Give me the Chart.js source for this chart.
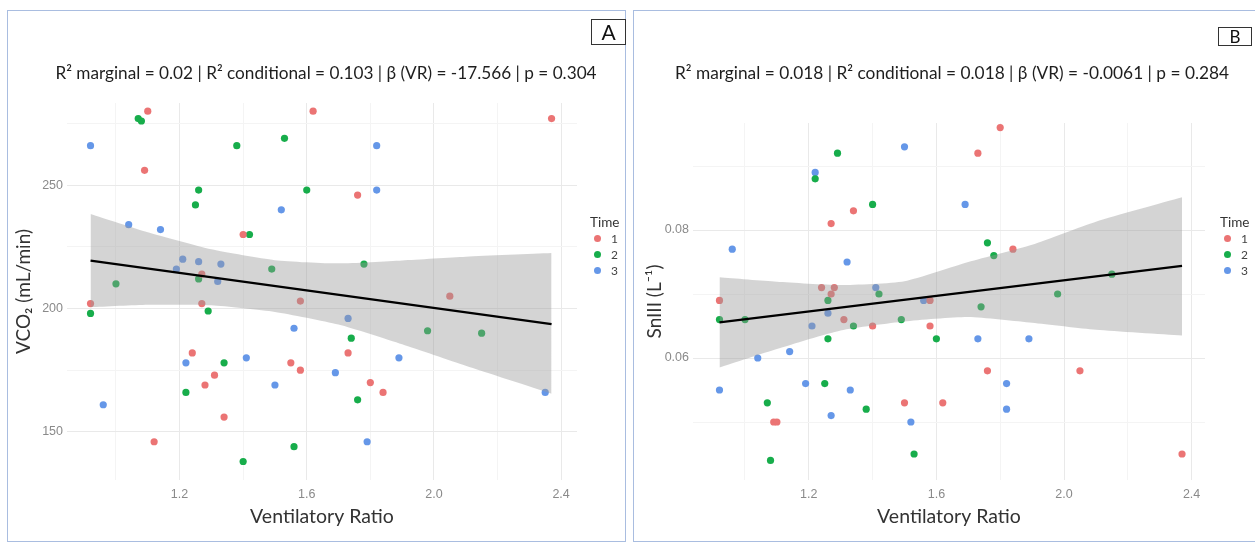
<!DOCTYPE html>
<html>
<head>
<meta charset="utf-8">
<title>VCO2 / SnIII vs Ventilatory Ratio</title>
<script src="https://cdn.jsdelivr.net/npm/chart.js"></script>
<style>
  body { margin: 0; width: 1255px; height: 542px; overflow: hidden; background: #fff; font-family: Lato, "Open Sans", sans-serif; }
  .panel { position: absolute; top: 10px; height: 530px; border: 1px solid #a9bde0; }
  #panelA { left: 7px; width: 617px; }
  #panelB { left: 633px; width: 621px; border-right: none; }
  .panel canvas { position: absolute; left: 0; top: 0; }
  .stats { position: absolute; top: 62px; width: 660px; line-height: 22px; text-align: center; color: #1e1e1e; white-space: nowrap; }
  .tag { position: absolute; box-sizing: border-box; border: 1px solid #333; text-align: center; color: #111; }
  .legTitle { position: absolute; font-size: 13.5px; line-height: 16px; color: #333; }
  .legItem { position: absolute; font-size: 12px; line-height: 14px; color: #444; }
  .legDot { position: absolute; width: 7px; height: 7px; border-radius: 50%; }
</style>
</head>
<body>
<div class="panel" id="panelA"><canvas id="chartA" width="617" height="530"></canvas></div>
<div class="panel" id="panelB"><canvas id="chartB" width="621" height="530"></canvas></div>

<div class="stats" style="left: -4px; font-size: 17.2px;">R² marginal = 0.02 | R² conditional = 0.103 | β (VR) = -17.566 | p = 0.304</div>
<div class="stats" style="left: 622px; font-size: 17.3px;">R² marginal = 0.018 | R² conditional = 0.018 | β (VR) = -0.0061 | p = 0.284</div>
<div class="tag" style="left: 591px; top: 19px; width: 35px; height: 26px; font-size: 21px; line-height: 24px;">A</div>
<div class="tag" style="left: 1218px; top: 27px; width: 34px; height: 19px; font-size: 17px; line-height: 17px;">B</div>

<script>
// categorias (Time) y colores
const timeLabels = ["1", "2", "3"];
const timeColors = ["#EB7474", "#17AD4B", "#6597E8"];

// ticks del eje x (Ventilatory Ratio)
const xTicks = [1.0, 1.2, 1.4, 1.6, 1.8, 2.0, 2.2, 2.4];
const xTickLabels = [1.2, 1.6, 2.0, 2.4];

// Panel A: VCO2 (mL/min)
const vco2Time1 = [[1.10, 280], [1.09, 256], [1.62, 280], [1.40, 230], [1.27, 214], [0.92, 202], [1.27, 202], [1.58, 203], [1.24, 182], [1.55, 178], [1.58, 175], [1.31, 173], [1.28, 169], [1.34, 156], [1.12, 146], [2.37, 277], [1.76, 246], [2.05, 205], [1.73, 182], [1.80, 170], [1.84, 166]];
const vco2Time2 = [[1.07, 277], [1.08, 276], [1.38, 266], [1.53, 269], [1.26, 248], [1.25, 242], [1.60, 248], [1.42, 230], [1.26, 212], [1.49, 216], [1.00, 210], [0.92, 198], [1.29, 199], [1.34, 178], [1.22, 166], [1.56, 144], [1.40, 138], [1.78, 218], [1.74, 188], [1.98, 191], [2.15, 190], [1.76, 163]];
const vco2Time3 = [[0.92, 266], [1.52, 240], [1.04, 234], [1.14, 232], [1.21, 220], [1.26, 219], [1.33, 218], [1.19, 216], [1.32, 211], [1.56, 192], [1.22, 178], [1.41, 180], [1.50, 169], [0.96, 161], [1.82, 266], [1.82, 248], [1.73, 196], [1.89, 180], [1.69, 174], [1.79, 146], [2.35, 166]];
const vco2Fit = [[0.92, 219.4], [2.37, 193.7]];
const vco2BandX = [0.92, 1.1, 1.3, 1.5, 1.7, 1.9, 2.1, 2.37];
const vco2BandUpper = [238.3, 230.9, 224.0, 219.6, 218.3, 219.5, 221.0, 222.5];
const vco2BandLower = [200.5, 201.5, 201.3, 198.6, 193.5, 185.5, 176.8, 165.5];
const vco2Ticks = [150, 175, 200, 225, 250, 275];
const vco2TickLabels = [150, 200, 250];

// Panel B: SnIII (L-1)
const sniiiTime1 = [[1.34, 0.083], [1.27, 0.081], [1.24, 0.071], [1.28, 0.071], [1.27, 0.070], [0.92, 0.069], [1.31, 0.066], [1.40, 0.065], [1.58, 0.069], [1.58, 0.065], [1.50, 0.053], [1.62, 0.053], [1.09, 0.050], [1.10, 0.050], [1.80, 0.096], [1.73, 0.092], [1.84, 0.077], [1.76, 0.058], [2.05, 0.058], [2.37, 0.045]];
const sniiiTime2 = [[1.29, 0.092], [1.22, 0.088], [1.40, 0.084], [1.42, 0.070], [1.26, 0.069], [0.92, 0.066], [1.00, 0.066], [1.34, 0.065], [1.49, 0.066], [1.26, 0.063], [1.60, 0.063], [1.25, 0.056], [1.07, 0.053], [1.38, 0.052], [1.08, 0.044], [1.53, 0.045], [1.76, 0.078], [1.78, 0.076], [2.15, 0.0731], [1.98, 0.070], [1.74, 0.068]];
const sniiiTime3 = [[1.50, 0.093], [1.22, 0.089], [0.96, 0.077], [1.32, 0.075], [1.41, 0.071], [1.26, 0.067], [1.21, 0.065], [1.56, 0.069], [1.14, 0.061], [1.04, 0.060], [0.92, 0.055], [1.19, 0.056], [1.33, 0.055], [1.27, 0.051], [1.52, 0.050], [1.69, 0.084], [1.73, 0.063], [1.89, 0.063], [1.82, 0.056], [1.82, 0.052]];
const sniiiFit = [[0.92, 0.06557], [2.37, 0.07438]];
const sniiiBandX = [0.92, 1.1, 1.3, 1.5, 1.7, 1.9, 2.1, 2.37];
const sniiiBandUpper = [0.0726, 0.0719, 0.0714, 0.0720, 0.0750, 0.0777, 0.0813, 0.0851];
const sniiiBandLower = [0.0585, 0.0614, 0.0643, 0.0657, 0.0664, 0.0655, 0.0644, 0.0635];
const sniiiTicks = [0.05, 0.06, 0.07, 0.08, 0.09];
const sniiiTickLabels = [0.06, 0.08];

const toPoints = (pairs) => pairs.map(([x, y]) => ({ x, y }));
const zip = (xs, ys) => xs.map((x, i) => ({ x, y: ys[i] }));

const tickFont = { family: "'Liberation Sans', Arial, sans-serif", size: 12.5 };
const titleColor = "#333";

const pintarPanel = (canvasId, cfg) => {
  const ctx = document.getElementById(canvasId);

  const pointSets = cfg.series.map((serie, i) => ({
    label: timeLabels[i],
    data: toPoints(serie),
    backgroundColor: timeColors[i],
    borderWidth: 0,
    pointRadius: 3.6,
    order: 3,
  }));

  new Chart(ctx, {
    type: "scatter",
    data: {
      datasets: [
        ...pointSets,
        {
          type: "line",
          label: "lower",
          data: zip(cfg.bandX, cfg.bandLower),
          borderColor: "transparent",
          pointRadius: 0,
          tension: 0.2,
          fill: false,
          order: 2,
        },
        {
          type: "line",
          label: "upper",
          data: zip(cfg.bandX, cfg.bandUpper),
          borderColor: "transparent",
          backgroundColor: "rgba(153,153,153,0.42)",
          pointRadius: 0,
          tension: 0.2,
          fill: "-1",
          order: 2,
        },
        {
          type: "line",
          label: "fit",
          data: toPoints(cfg.fit),
          borderColor: "#000",
          borderWidth: 2.3,
          pointRadius: 0,
          fill: false,
          order: 1,
        },
      ],
    },
    options: {
      responsive: false,
      animation: false,
      events: [],
      layout: { padding: { top: cfg.padTop, right: cfg.padRight, left: 0, bottom: 0 } },
      plugins: { legend: { display: false }, tooltip: { enabled: false } },
      scales: {
        x: {
          type: "linear",
          min: cfg.xMin,
          max: cfg.xMax,
          afterBuildTicks: (axis) => { axis.ticks = xTicks.map((v) => ({ value: v })); },
          afterFit: (axis) => { axis.height = 61; },
          border: { display: false },
          grid: {
            drawTicks: false,
            color: (c) => (xTickLabels.includes(c.tick.value) ? "#e9e9e9" : "#f4f4f4"),
          },
          ticks: {
            autoSkip: false,
            maxRotation: 0,
            padding: 7,
            color: "#8a8a8a",
            font: tickFont,
            callback: (v) => (xTickLabels.includes(v) ? v.toFixed(1) : ""),
          },
          title: {
            display: true,
            text: "Ventilatory Ratio",
            color: titleColor,
            font: { family: "Lato, 'Open Sans', sans-serif", size: 19.5 },
            padding: { top: 0, bottom: 13 },
          },
        },
        y: {
          type: "linear",
          min: cfg.yMin,
          max: cfg.yMax,
          afterBuildTicks: (axis) => { axis.ticks = cfg.yTicks.map((v) => ({ value: v })); },
          afterFit: (axis) => { axis.width = 59; },
          border: { display: false },
          grid: {
            drawTicks: false,
            color: (c) => (cfg.yTickLabels.includes(c.tick.value) ? "#e9e9e9" : "#f4f4f4"),
          },
          ticks: {
            autoSkip: false,
            padding: 4,
            color: "#8a8a8a",
            font: tickFont,
            callback: (v) => (cfg.yTickLabels.includes(v) ? cfg.fmt(v) : ""),
          },
          title: {
            display: true,
            text: cfg.yTitle,
            color: titleColor,
            font: { family: "Lato, 'Open Sans', sans-serif", size: 19 },
            padding: { top: cfg.yTitlePad, bottom: 0 },
          },
        },
      },
    },
  });
};

// leyenda "Time" en html, con los mismos colores
const pintarLeyenda = (left, top) => {
  const title = document.createElement("div");
  title.className = "legTitle";
  title.textContent = "Time";
  title.style.left = left + "px";
  title.style.top = top + "px";
  document.body.appendChild(title);

  timeLabels.forEach((label, i) => {
    const rowY = top + 21 + i * 16;
    const dot = document.createElement("div");
    dot.className = "legDot";
    dot.style.background = timeColors[i];
    dot.style.left = left + 4 + "px";
    dot.style.top = rowY + "px";
    document.body.appendChild(dot);

    const txt = document.createElement("div");
    txt.className = "legItem";
    txt.textContent = label;
    txt.style.left = left + 21 + "px";
    txt.style.top = rowY - 3 + "px";
    document.body.appendChild(txt);
  });
};

pintarPanel("chartA", {
  series: [vco2Time1, vco2Time2, vco2Time3],
  fit: vco2Fit,
  bandX: vco2BandX,
  bandUpper: vco2BandUpper,
  bandLower: vco2BandLower,
  yTicks: vco2Ticks,
  yTickLabels: vco2TickLabels,
  fmt: (v) => String(v),
  yTitle: "VCO₂ (mL/min)",
  yTitlePad: 4,
  xMin: 0.846,
  xMax: 2.45,
  yMin: 130.5,
  yMax: 283.3,
  padTop: 92,
  padRight: 48,
});

pintarPanel("chartB", {
  series: [sniiiTime1, sniiiTime2, sniiiTime3],
  fit: sniiiFit,
  bandX: sniiiBandX,
  bandUpper: sniiiBandUpper,
  bandLower: sniiiBandLower,
  yTicks: sniiiTicks,
  yTickLabels: sniiiTickLabels,
  fmt: (v) => v.toFixed(2),
  yTitle: "SnIII (L⁻¹)",
  yTitlePad: 9,
  xMin: 0.837,
  xMax: 2.442,
  yMin: 0.04094,
  yMax: 0.09672,
  padTop: 112,
  padRight: 50,
});

pintarLeyenda(590, 214);
pintarLeyenda(1220, 214);
</script>
</body>
</html>
